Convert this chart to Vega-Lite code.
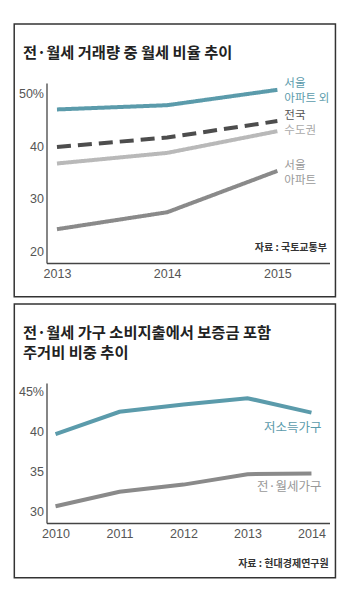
{
  "$schema": "https://vega.github.io/schema/vega-lite/v6.json",
  "padding": {"top": 23, "left": 12.5, "right": 5, "bottom": 5},
  "background": "white",
  "bounds": "flush",
  "spacing": 120,
  "resolve": {"scale": {"color": "independent", "strokeDash": "independent"}},
  "config": {
    "view": {"stroke": null},
    "font": "Noto Sans CJK KR",
    "axis": {
      "grid": false, "ticks": false, "domainColor": "#444", "domainWidth": 1.3,
      "labelColor": "#555", "labelFontSize": 12.5, "labelFont": "Liberation Sans Narrow, Liberation Sans, sans-serif"
    },
    "title": {"font": "Noto Sans CJK KR", "fontWeight": "bold", "fontSize": 15.3, "color": "#222", "anchor": "start", "frame": "group", "baseline": "bottom", "dx": -23.5, "lineHeight": 20}
  },
  "vconcat": [
    {
      "width": 283,
      "height": 180,
      "title": {"text": "전·월세 거래량 중 월세 비율 추이", "offset": -38.5},
      "data": {"values": [
        {"year": 2013, "series": "서울 아파트 외", "value": 46.9},
        {"year": 2014, "series": "서울 아파트 외", "value": 47.7},
        {"year": 2015, "series": "서울 아파트 외", "value": 50.6},
        {"year": 2013, "series": "전국", "value": 39.8},
        {"year": 2014, "series": "전국", "value": 41.6},
        {"year": 2015, "series": "전국", "value": 44.7},
        {"year": 2013, "series": "수도권", "value": 36.7},
        {"year": 2014, "series": "수도권", "value": 38.7},
        {"year": 2015, "series": "수도권", "value": 42.8},
        {"year": 2013, "series": "서울 아파트", "value": 24.3},
        {"year": 2014, "series": "서울 아파트", "value": 27.5},
        {"year": 2015, "series": "서울 아파트", "value": 35.3}
      ]},
      "layer": [
        {
          "mark": {"type": "line", "strokeWidth": 4, "strokeCap": "butt"},
          "encoding": {
            "x": {"field": "year", "type": "quantitative", "title": null,
              "scale": {"domain": [2012.905, 2015.473], "nice": false, "zero": false},
              "axis": {"values": [2013, 2014, 2015], "format": "d", "labelPadding": 4, "labelFlush": false}},
            "y": {"field": "value", "type": "quantitative", "title": null,
              "scale": {"domain": [17.92, 51.89], "nice": false, "zero": false},
              "axis": {"values": [20, 30, 40, 50], "labelExpr": "datum.value == 50 ? '50%' : datum.label", "labelPadding": 3}},
            "color": {"field": "series", "type": "nominal", "legend": null,
              "scale": {"domain": ["서울 아파트 외", "전국", "수도권", "서울 아파트"], "range": ["#5b9bab", "#4d4d4d", "#b9b9b9", "#8a8a8a"]}},
            "strokeDash": {"field": "series", "type": "nominal", "legend": null,
              "scale": {"domain": ["서울 아파트 외", "전국", "수도권", "서울 아파트"], "range": [[1, 0], [14, 7], [1, 0], [1, 0]]}}
          }
        },
        {
          "data": {"values": [{}]},
          "mark": {"type": "rect", "fill": "transparent", "stroke": "#333", "strokeWidth": 1.5},
          "encoding": {
            "x": {"datum": 2012.612, "type": "quantitative", "title": null},
            "x2": {"datum": 2015.527},
            "y": {"datum": 63.02, "type": "quantitative", "title": null},
            "y2": {"datum": 11.57}
          }
        },
        {
          "transform": [
            {"filter": "datum.year == 2015 && datum.series == '서울 아파트 외'"},
            {"calculate": "replace(datum.series, ' ', '\\n')", "as": "label"}
          ],
          "mark": {"type": "text", "align": "left", "baseline": "top", "dx": 7, "dy": -11.5, "fontSize": 11.5, "lineBreak": "\n", "lineHeight": 15, "color": "#5b9bab"},
          "encoding": {
            "x": {"field": "year", "type": "quantitative", "title": null},
            "y": {"field": "value", "type": "quantitative", "title": null},
            "text": {"field": "label"}
          }
        },
        {
          "transform": [{"filter": "datum.year == 2015 && datum.series == '전국'"}],
          "mark": {"type": "text", "align": "left", "baseline": "middle", "dx": 7, "dy": -5, "fontSize": 11.5, "color": "#555555"},
          "encoding": {
            "x": {"field": "year", "type": "quantitative", "title": null},
            "y": {"field": "value", "type": "quantitative", "title": null},
            "text": {"field": "series"}
          }
        },
        {
          "transform": [{"filter": "datum.year == 2015 && datum.series == '수도권'"}],
          "mark": {"type": "text", "align": "left", "baseline": "middle", "dx": 7, "dy": 0, "fontSize": 11.5, "color": "#aaaaaa"},
          "encoding": {
            "x": {"field": "year", "type": "quantitative", "title": null},
            "y": {"field": "value", "type": "quantitative", "title": null},
            "text": {"field": "series"}
          }
        },
        {
          "transform": [
            {"filter": "datum.year == 2015 && datum.series == '서울 아파트'"},
            {"calculate": "replace(datum.series, ' ', '\\n')", "as": "label"}
          ],
          "mark": {"type": "text", "align": "left", "baseline": "top", "dx": 7, "dy": -10.5, "fontSize": 11.5, "lineBreak": "\n", "lineHeight": 15, "color": "#999999"},
          "encoding": {
            "x": {"field": "year", "type": "quantitative", "title": null},
            "y": {"field": "value", "type": "quantitative", "title": null},
            "text": {"field": "label"}
          }
        },
        {
          "data": {"values": [{"text": "자료 : 국토교통부"}]},
          "mark": {"type": "text", "align": "right", "baseline": "middle", "fontSize": 10, "fontWeight": "bold", "color": "#333"},
          "encoding": {
            "text": {"field": "text"},
            "x": {"datum": 2015.45, "type": "quantitative", "title": null},
            "y": {"datum": 20.75, "type": "quantitative", "title": null}
          }
        }
      ]
    },
    {
      "width": 283,
      "height": 140,
      "title": {"text": ["전·월세 가구 소비지출에서 보증금 포함", "주거비 비중 추이"], "offset": -58},
      "data": {"values": [
        {"year": 2010, "series": "저소득가구", "value": 39.6},
        {"year": 2011, "series": "저소득가구", "value": 42.4},
        {"year": 2012, "series": "저소득가구", "value": 43.3},
        {"year": 2013, "series": "저소득가구", "value": 44.1},
        {"year": 2014, "series": "저소득가구", "value": 42.3},
        {"year": 2010, "series": "전·월세가구", "value": 30.6},
        {"year": 2011, "series": "전·월세가구", "value": 32.4},
        {"year": 2012, "series": "전·월세가구", "value": 33.3},
        {"year": 2013, "series": "전·월세가구", "value": 34.6},
        {"year": 2014, "series": "전·월세가구", "value": 34.7}
      ]},
      "layer": [
        {
          "mark": {"type": "line", "strokeWidth": 4},
          "encoding": {
            "x": {"field": "year", "type": "quantitative", "title": null,
              "scale": {"domain": [2009.859, 2014.282], "nice": false, "zero": false},
              "axis": {"values": [2010, 2011, 2012, 2013, 2014], "format": "d", "labelPadding": 4, "labelFlush": false}},
            "y": {"field": "value", "type": "quantitative", "title": null,
              "scale": {"domain": [28.5, 46], "nice": false, "zero": false},
              "axis": {"values": [30, 35, 40, 45], "labelExpr": "datum.value == 45 ? '45%' : datum.label", "labelPadding": 3}},
            "color": {"field": "series", "type": "nominal", "legend": null,
              "scale": {"domain": ["저소득가구", "전·월세가구"], "range": ["#5b9bab", "#8a8a8a"]}}
          }
        },
        {
          "data": {"values": [{}]},
          "mark": {"type": "rect", "fill": "transparent", "stroke": "#333", "strokeWidth": 1.5},
          "encoding": {
            "x": {"datum": 2009.356, "type": "quantitative", "title": null},
            "x2": {"datum": 2014.375},
            "y": {"datum": 55.875, "type": "quantitative", "title": null},
            "y2": {"datum": 21.66}
          }
        },
        {
          "transform": [{"filter": "datum.year == 2014 && datum.series == '저소득가구'"}],
          "mark": {"type": "text", "align": "right", "baseline": "middle", "dx": 10, "dy": 15, "fontSize": 12.5, "color": "#5b9bab"},
          "encoding": {
            "x": {"field": "year", "type": "quantitative", "title": null},
            "y": {"field": "value", "type": "quantitative", "title": null},
            "text": {"field": "series"}
          }
        },
        {
          "transform": [{"filter": "datum.year == 2014 && datum.series == '전·월세가구'"}],
          "mark": {"type": "text", "align": "right", "baseline": "middle", "dx": 10, "dy": 14, "fontSize": 12.5, "color": "#999999"},
          "encoding": {
            "x": {"field": "year", "type": "quantitative", "title": null},
            "y": {"field": "value", "type": "quantitative", "title": null},
            "text": {"field": "series"}
          }
        },
        {
          "data": {"values": [{"text": "자료 : 현대경제연구원"}]},
          "mark": {"type": "text", "align": "right", "baseline": "middle", "fontSize": 10, "fontWeight": "bold", "color": "#333"},
          "encoding": {
            "text": {"field": "text"},
            "x": {"datum": 2014.27, "type": "quantitative", "title": null},
            "y": {"datum": 23.4, "type": "quantitative", "title": null}
          }
        }
      ]
    }
  ]
}
